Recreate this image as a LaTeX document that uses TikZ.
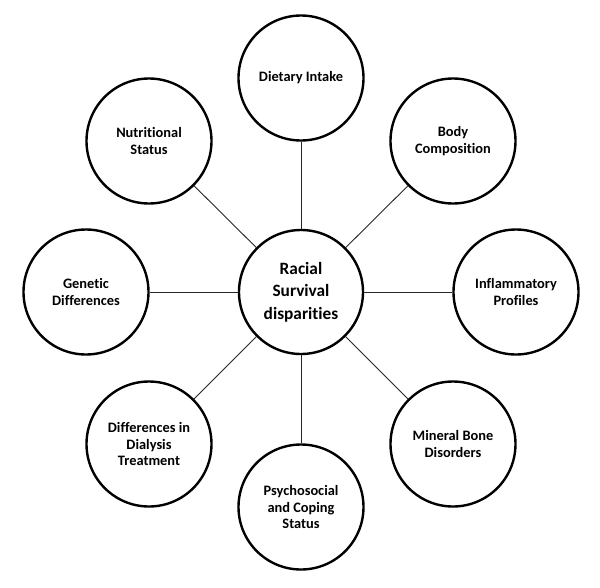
\documentclass[tikz,border=0pt]{standalone}
\usepackage{fontspec}
\setmainfont{Carlito}[RawFeature=-liga]
\tikzset{
  hub/.style={circle,draw,line width=2.4pt,minimum size=124pt,inner sep=0pt,align=center,font=\bfseries\fontsize{17.3}{22.5}\selectfont},
  sat/.style={circle,draw,line width=2.4pt,minimum size=125pt,inner sep=0pt,align=center,font=\bfseries\fontsize{14.4}{16.2}\selectfont},
  lnk/.style={line width=0.9pt,black!85}
}

\begin{document}
\begin{tikzpicture}[x=1pt,y=-1pt]
\useasboundingbox (0,0) rectangle (600,587);
\node[hub] (race) at (301,292) {Racial\\Survival\\disparities};
\node[sat] (diet) at (301,78) {Dietary Intake};
\node[sat] (body) at (453,141) {Body\\Composition};
\node[sat] (infl) at (516,292) {Inflammatory\\Profiles};
\node[sat] (bone) at (453,444) {Mineral Bone\\Disorders};
\node[sat] (psy) at (301,507) {Psychosocial\\and Coping\\Status};
\node[sat] (dial) at (149,444) {Differences in\\Dialysis\\Treatment};
\node[sat] (gene) at (86,292) {Genetic\\Differences};
\node[sat] (nutr) at (149,141) {Nutritional\\Status};
% spokes
\foreach \s in {diet,body,infl,bone,psy,dial,gene,nutr}
  \draw[lnk] (race) -- (\s);
\end{tikzpicture}
\end{document}
